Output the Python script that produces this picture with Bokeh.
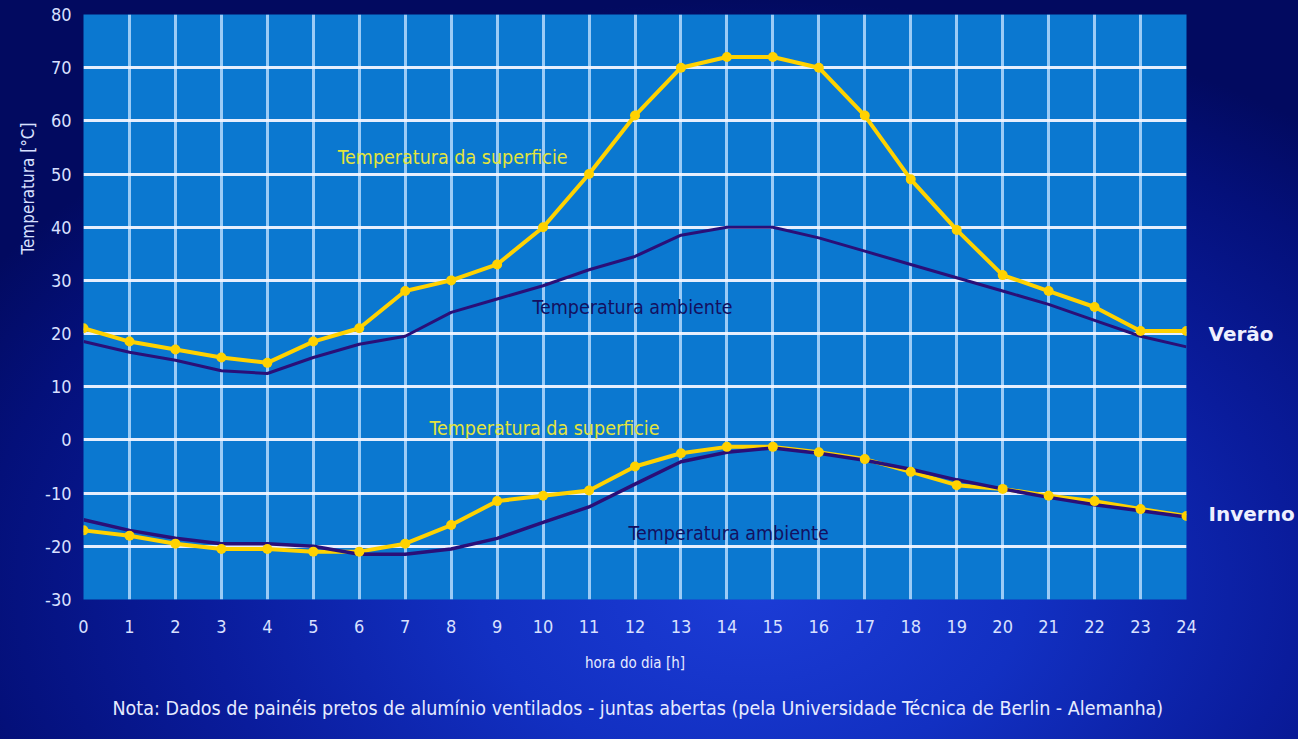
import math
from bokeh.plotting import figure
from bokeh.models import Label, FixedTicker, Range1d, LinearAxis, Title
from bokeh.embed import file_html
from bokeh.resources import INLINE

# ---------------- data ----------------
hours = list(range(25))
x_tick_labels = [str(h) for h in hours]
y_ticks = list(range(-30, 81, 10))
y_tick_labels = [str(v) for v in y_ticks]

verao_superficie = [21, 18.5, 17, 15.5, 14.5, 18.5, 21, 28, 30, 33, 40, 50, 61,
                    70, 72, 72, 70, 61, 49, 39.5, 31, 28, 25, 20.5, 20.5]
verao_ambiente = [18.5, 16.5, 15, 13, 12.5, 15.5, 18, 19.5, 24, 26.5, 29, 32, 34.5,
                  38.5, 40, 40, 38, 35.5, 33, 30.5, 28, 25.5, 22.5, 19.5, 17.5]
inverno_superficie = [-17, -18, -19.5, -20.5, -20.5, -21, -21, -19.5, -16, -11.5, -10.5,
                      -9.5, -5, -2.5, -1.3, -1.3, -2.3, -3.6, -6, -8.5, -9.2, -10.5,
                      -11.5, -13, -14.3]
inverno_ambiente = [-15, -17, -18.5, -19.5, -19.5, -20, -21.5, -21.5, -20.5, -18.5, -15.5,
                    -12.6, -8.3, -4.1, -2.3, -1.5, -2.5, -3.8, -5.5, -7.5, -9.2, -10.8,
                    -12.2, -13.3, -14.5]
season_label_pos = [20, -14]
season_labels = ["Verão", "Inverno"]

NARROW = "DejaVu Sans Condensed, Liberation Sans"
YELLOW = "#ffd200"
DARK = "#2a0f78"

p = figure(width=1298, height=739, output_backend="svg", toolbar_location=None,
           x_range=Range1d(0, 24), y_range=Range1d(-30, 80), title=None,
           min_border_left=83, min_border_right=112, min_border_top=14,
           min_border_bottom=140)

p.styles = {"background": "radial-gradient(ellipse 70% 80% at 58% 80%, #1c3cd6 0%, #1230c2 30%, #0a1c9c 60%, #04107a 85%, #020a60 100%)"}
p.border_fill_alpha = 0
p.background_fill_color = "#0b78d0"
p.outline_line_color = None

# grids
p.xgrid.ticker = FixedTicker(ticks=hours)
p.ygrid.ticker = FixedTicker(ticks=y_ticks)
p.xgrid.grid_line_color = "#bfe0ff"
p.xgrid.grid_line_width = 3
p.xgrid.grid_line_alpha = 0.8
p.ygrid.grid_line_color = "#f2f4ff"
p.ygrid.grid_line_width = 3
p.ygrid.grid_line_alpha = 0.95

# axes
for ax in (p.xaxis, p.yaxis):
    ax.axis_line_color = None
    ax.major_tick_line_color = None
    ax.minor_tick_line_color = None
    ax.major_label_text_font = NARROW
    ax.major_label_text_font_size = "18px"
    ax.major_label_text_color = "#d8e0ff"

p.xaxis.ticker = FixedTicker(ticks=hours)
p.xaxis.major_label_overrides = {h: lab for h, lab in zip(hours, x_tick_labels)}
p.xaxis.major_label_standoff = 14
p.xaxis.axis_label = "hora do dia [h]"
p.xaxis.axis_label_text_font = NARROW
p.xaxis.axis_label_text_font_size = "15px"
p.xaxis.axis_label_text_font_style = "normal"
p.xaxis.axis_label_text_color = "#e6ebff"
p.xaxis.axis_label_standoff = 18

p.yaxis.ticker = FixedTicker(ticks=y_ticks)
p.yaxis.major_label_overrides = {v: lab for v, lab in zip(y_ticks, y_tick_labels)}
p.yaxis.major_label_standoff = 6

# right axis carrying the season names
season_axis = LinearAxis(ticker=FixedTicker(ticks=season_label_pos),
                         major_label_overrides={v: s for v, s in zip(season_label_pos, season_labels)})
season_axis.axis_line_color = None
season_axis.major_tick_line_color = None
season_axis.minor_tick_line_color = None
season_axis.major_label_standoff = 16
season_axis.major_label_text_font = "DejaVu Sans"
season_axis.major_label_text_font_style = "bold"
season_axis.major_label_text_font_size = "20px"
season_axis.major_label_text_color = "#eef0ff"
p.add_layout(season_axis, "right")

# y title on the left
ytitle = Title(text="Temperatura [°C]", align="right", offset=108,
               text_font=NARROW, text_font_size="17px",
               text_font_style="normal", text_color="#d8e0ff")
p.add_layout(ytitle, "left")

# note below
note = Title(text="Nota: Dados de painéis pretos de alumínio ventilados - juntas abertas (pela Universidade Técnica de Berlin - Alemanha)",
             align="left", offset=29, standoff=40, text_font=NARROW, text_font_size="19.5px",
             text_font_style="normal", text_color="#e6ebff")
p.add_layout(note, "below")

# series
p.line(hours, verao_ambiente, line_color=DARK, line_width=3)
p.line(hours, verao_superficie, line_color=YELLOW, line_width=4)
p.scatter(hours, verao_superficie, size=10, fill_color=YELLOW, line_color=None)

p.line(hours, inverno_superficie, line_color=YELLOW, line_width=4)
p.line(hours, inverno_ambiente, line_color=DARK, line_width=3.5)
p.scatter(hours, inverno_superficie, size=10, fill_color=YELLOW, line_color=None)

# in-plot labels
def lab(x, y, text, color, size, font=NARROW):
    p.add_layout(Label(x=x, y=y, text=text, text_color=color, text_font=font,
                       text_font_size=size, text_align="left",
                       text_baseline="middle"))

lab(5.53, 53.2, "Temperatura da superficie", "#e4e43c", "19.5px")
lab(9.77, 25.0, "Temperatura ambiente", "#141060", "19.5px")
lab(7.53, 2.1, "Temperatura da superficie", "#e4e43c", "19.5px")
lab(11.86, -17.5, "Temperatura ambiente", "#141060", "19.5px")

open("out.html", "w").write(file_html(p, INLINE))
